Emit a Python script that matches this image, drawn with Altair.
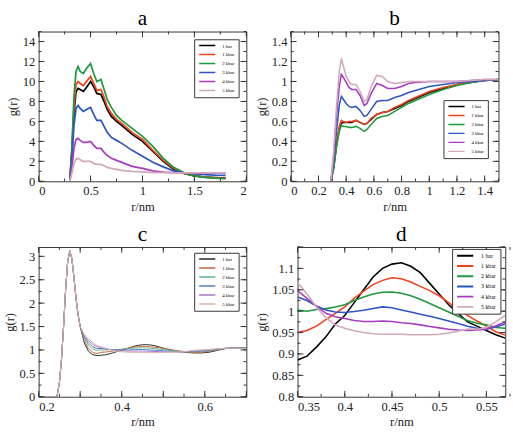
import altair as alt
import pandas as pd

SERIES = ["1 bar", "1 kbar", "2 kbar", "3 kbar", "4 kbar", "5 kbar"]
COLORS = ["#000000", "#f2401e", "#1f9a3c", "#2f55c0", "#a83cc0", "#d2a8bc"]
COLORS_C = ["#2a2a2a", "#c9663e", "#5db58c", "#4f7fc6", "#a878c6", "#d9b4a6"]
FONT = "Liberation Serif"

# ---- panel a ----
r_a = [0.3, 0.32, 0.34, 0.36, 0.38, 0.40, 0.43, 0.46, 0.50, 0.53, 0.56, 0.60, 0.63,
       0.66, 0.70, 0.75, 0.8, 0.9, 1.0, 1.1, 1.2, 1.3, 1.4, 1.5, 1.6, 1.7, 1.8]
a_1bar = [0, 2.8, 6.8, 9.0, 9.3, 9.2, 9.0, 9.4, 10.0, 9.5, 8.8, 8.7, 8.0, 7.2, 6.5,
          6.0, 5.6, 4.7, 4.0, 3.0, 2.0, 1.2, 0.8, 0.55, 0.42, 0.36, 0.32]
a_1kbar = [0, 3.0, 7.4, 9.7, 10.0, 9.8, 9.6, 10.0, 10.5, 9.8, 9.1, 9.2, 8.4, 7.5, 6.8,
           6.2, 5.8, 4.9, 4.2, 3.1, 2.1, 1.3, 0.8, 0.55, 0.42, 0.35, 0.3]
a_2kbar = [0, 3.4, 8.5, 11.0, 11.5, 11.0, 10.8, 11.3, 11.8, 10.8, 10.0, 10.2, 9.2, 8.2,
           7.4, 6.6, 6.1, 5.3, 4.5, 3.5, 2.3, 1.4, 0.85, 0.55, 0.4, 0.32, 0.28]
a_3kbar = [0, 2.3, 5.6, 7.3, 7.6, 7.3, 7.0, 7.2, 7.4, 6.7, 6.1, 6.1, 5.5, 4.9, 4.4,
           4.1, 3.8, 3.1, 2.5, 1.9, 1.45, 1.05, 0.85, 0.75, 0.68, 0.62, 0.6]
a_4kbar = [0, 1.4, 3.3, 4.2, 4.3, 4.1, 3.9, 3.9, 4.0, 3.6, 3.3, 3.3, 2.9, 2.6, 2.3,
           2.1, 1.9, 1.5, 1.3, 1.05, 0.92, 0.87, 0.85, 0.85, 0.85, 0.85, 0.85]
a_5kbar = [0, 0.8, 1.8, 2.2, 2.3, 2.15, 2.0, 2.0, 2.0, 1.8, 1.7, 1.7, 1.55, 1.4, 1.3,
           1.2, 1.1, 1.0, 0.95, 0.88, 0.86, 0.85, 0.85, 0.85, 0.85, 0.85, 0.85]

# ---- panel b ----
r_b = [0.29, 0.31, 0.33, 0.35, 0.365, 0.38, 0.40, 0.42, 0.44, 0.47, 0.50, 0.53, 0.55,
       0.58, 0.62, 0.66, 0.70, 0.75, 0.80, 0.85, 0.90, 1.0, 1.1, 1.2, 1.3, 1.4, 1.5]
b_1bar = [0, 0.14, 0.36, 0.53, 0.58, 0.59, 0.59, 0.59, 0.59, 0.61, 0.59, 0.57, 0.58,
          0.62, 0.67, 0.69, 0.70, 0.73, 0.76, 0.80, 0.83, 0.89, 0.93, 0.97, 0.99, 1.01, 1.02]
b_1kbar = [0, 0.15, 0.38, 0.55, 0.61, 0.60, 0.59, 0.60, 0.60, 0.61, 0.59, 0.57, 0.58,
           0.63, 0.67, 0.69, 0.70, 0.74, 0.77, 0.81, 0.84, 0.90, 0.94, 0.97, 1.0, 1.01, 1.02]
b_2kbar = [0, 0.13, 0.34, 0.50, 0.56, 0.55, 0.55, 0.54, 0.54, 0.55, 0.53, 0.50, 0.52,
           0.57, 0.63, 0.65, 0.66, 0.70, 0.74, 0.78, 0.81, 0.87, 0.92, 0.96, 0.99, 1.01, 1.02]
b_3kbar = [0, 0.20, 0.50, 0.76, 0.85, 0.82, 0.78, 0.75, 0.74, 0.75, 0.71, 0.65, 0.66,
           0.72, 0.80, 0.81, 0.81, 0.84, 0.86, 0.89, 0.91, 0.95, 0.97, 0.99, 1.0, 1.01, 1.02]
b_4kbar = [0, 0.26, 0.65, 0.95, 1.07, 1.04, 0.99, 0.94, 0.92, 0.92, 0.86, 0.76, 0.78,
           0.88, 0.98, 0.96, 0.93, 0.93, 0.95, 0.98, 0.99, 1.0, 1.0, 1.0, 1.01, 1.02, 1.02]
b_5kbar = [0, 0.30, 0.75, 1.10, 1.23, 1.15, 1.05, 1.0, 0.97, 0.97, 0.90, 0.80, 0.82,
           0.95, 1.06, 1.05, 1.0, 0.98, 0.99, 1.0, 1.0, 1.0, 1.0, 1.0, 1.01, 1.02, 1.02]

# ---- panel d (zoom of the second shell) ----
r_d = [0.35, 0.36, 0.37, 0.38, 0.39, 0.40, 0.41, 0.42, 0.43, 0.44, 0.45, 0.46, 0.47,
       0.48, 0.49, 0.50, 0.51, 0.52, 0.53, 0.54, 0.55, 0.56, 0.57]
d_1bar = [0.886, 0.895, 0.916, 0.94, 0.97, 0.99, 1.02, 1.05, 1.08, 1.10, 1.11, 1.113,
          1.105, 1.09, 1.065, 1.04, 1.015, 0.995, 0.975, 0.965, 0.955, 0.945, 0.937]
d_1kbar = [0.95, 0.955, 0.965, 0.98, 0.995, 1.01, 1.03, 1.047, 1.062, 1.072, 1.078, 1.076,
           1.068, 1.058, 1.048, 1.036, 1.02, 1.003, 0.99, 0.977, 0.965, 0.952, 0.944]
d_2kbar = [1.003, 1.0, 1.004, 1.006, 1.01, 1.015, 1.025, 1.033, 1.04, 1.044, 1.045, 1.042,
           1.036, 1.028, 1.018, 1.008, 0.998, 0.988, 0.978, 0.972, 0.968, 0.962, 0.96]
d_3kbar = [1.033, 1.025, 1.012, 1.003, 0.998, 0.997, 0.999, 1.002, 1.006, 1.01, 1.008, 1.003,
           0.998, 0.993, 0.988, 0.983, 0.977, 0.971, 0.965, 0.96, 0.958, 0.963, 0.97]
d_4kbar = [1.048, 1.03, 1.012, 0.995, 0.987, 0.983, 0.978, 0.976, 0.976, 0.977, 0.976, 0.973,
           0.971, 0.968, 0.964, 0.961, 0.958, 0.956, 0.955, 0.956, 0.958, 0.966, 0.975]
d_5kbar = [1.067, 1.04, 1.01, 0.985, 0.968, 0.96, 0.954, 0.95, 0.947, 0.946, 0.946, 0.946,
           0.945, 0.945, 0.945, 0.946, 0.949, 0.953, 0.958, 0.958, 0.962, 0.975, 0.99]

# ---- panel c: first peak, the d window, and the tail ----
r_c_head = [0.2, 0.244, 0.25, 0.255, 0.26, 0.265, 0.27, 0.275, 0.28, 0.285, 0.29, 0.295, 0.30]
c_head = [0, 0, 0.3, 0.8, 1.5, 2.3, 2.9, 3.12, 2.95, 2.55, 2.1, 1.75, 1.5]
r_c_mid = [0.31, 0.32, 0.33, 0.34]
c_mid_1bar = [1.15, 0.97, 0.90, 0.88]
c_mid_1kbar = [1.20, 1.03, 0.95, 0.92]
c_mid_2kbar = [1.25, 1.10, 1.02, 0.99]
c_mid_3kbar = [1.28, 1.15, 1.07, 1.03]
c_mid_4kbar = [1.30, 1.20, 1.12, 1.07]
c_mid_5kbar = [1.33, 1.23, 1.16, 1.10]
r_c_tail = [0.59, 0.61, 0.63, 0.65, 0.67, 0.70]
c_tail_1bar = [0.935, 0.95, 0.99, 1.03, 1.05, 1.04]
c_tail_1kbar = [0.95, 0.97, 1.0, 1.03, 1.045, 1.04]
c_tail_2kbar = [0.965, 0.98, 1.01, 1.035, 1.045, 1.04]
c_tail_3kbar = [0.975, 0.99, 1.015, 1.035, 1.04, 1.04]
c_tail_4kbar = [0.985, 1.0, 1.02, 1.035, 1.04, 1.035]
c_tail_5kbar = [1.0, 1.01, 1.025, 1.035, 1.04, 1.03]


def long_frame(r, columns):
    rows = []
    for name, values in zip(SERIES, columns):
        for i, (x, y) in enumerate(zip(r, values)):
            rows.append({"series": name, "r": x, "g": y, "i": i})
    return pd.DataFrame(rows)


df_a = long_frame(r_a, [a_1bar, a_1kbar, a_2kbar, a_3kbar, a_4kbar, a_5kbar])
df_b = long_frame(r_b, [b_1bar, b_1kbar, b_2kbar, b_3kbar, b_4kbar, b_5kbar])
df_d = long_frame(r_d, [d_1bar, d_1kbar, d_2kbar, d_3kbar, d_4kbar, d_5kbar])
r_c = r_c_head + r_c_mid + r_d + r_c_tail
df_c = long_frame(r_c, [
    c_head + m + d + t for m, d, t in [
        (c_mid_1bar, d_1bar, c_tail_1bar), (c_mid_1kbar, d_1kbar, c_tail_1kbar),
        (c_mid_2kbar, d_2kbar, c_tail_2kbar), (c_mid_3kbar, d_3kbar, c_tail_3kbar),
        (c_mid_4kbar, d_4kbar, c_tail_4kbar), (c_mid_5kbar, d_5kbar, c_tail_5kbar)]
])

W, H = 215, 155
FRAME = "#333333"
AXIS_STYLE = dict(labelFont=FONT, labelFontSize=13, labelColor="#222", titleFont=FONT,
                  titleFontSize=13, titleFontWeight="normal", titleColor="#222",
                  ticks=False, domain=False, grid=False, labelPadding=4, titlePadding=3,
                  format="~g")


def steps(lo, hi, step):
    n = int(round((hi - lo) / step))
    return [round(lo + k * step, 4) for k in range(n + 1)]


def inward_ticks(vals, length, xs, ys, xaxis, yaxis, axis):
    """Rules drawn just inside the frame, on both opposite sides."""
    d = pd.DataFrame({"v": vals})
    base = alt.Chart(d).mark_rule(color=FRAME, strokeWidth=1)
    if axis == "x":
        enc = dict(x=alt.X("v:Q", scale=xs, axis=xaxis))
        return [base.encode(y=alt.value(H), y2=alt.value(H - length), **enc),
                base.encode(y=alt.value(0), y2=alt.value(length), **enc)]
    enc = dict(y=alt.Y("v:Q", scale=ys, axis=yaxis))
    return [base.encode(x=alt.value(0), x2=alt.value(length), **enc),
            base.encode(x=alt.value(W), x2=alt.value(W - length), **enc)]


def panel(df, title, xdom, ydom, xlabels, ylabels, xminor, yminor, xmajor, ymajor,
          colors, lx, ly, sw, big_legend=False):
    xs = alt.Scale(domain=xdom, nice=False, zero=False)
    ys = alt.Scale(domain=ydom, nice=False, zero=False)
    xaxis = alt.Axis(values=xlabels, title="r/nm", **AXIS_STYLE)
    yaxis = alt.Axis(values=ylabels, title="g(r)", **AXIS_STYLE)
    legend = alt.Legend(orient="none", legendX=lx, legendY=ly, title=None,
                        symbolType="stroke", symbolSize=280,
                        symbolStrokeWidth=2 if big_legend else 1.5,
                        labelFontSize=6 if big_legend else 5,
                        labelFont=FONT, labelOffset=7 if big_legend else 6,
                        rowPadding=4.6 if big_legend else 3.3,
                        clipHeight=6 if big_legend else 5, padding=4,
                        strokeColor=FRAME, fillColor="white")
    lines = alt.Chart(df).mark_line(strokeWidth=sw, clip=True).encode(
        x=alt.X("r:Q", scale=xs, axis=xaxis),
        y=alt.Y("g:Q", scale=ys, axis=yaxis),
        color=alt.Color("series:N", sort=SERIES,
                        scale=alt.Scale(domain=SERIES, range=colors), legend=legend),
        detail="series:N",
        order=alt.Order("i:Q"),
    )
    layers = [lines]
    layers += inward_ticks(xminor, 3, xs, ys, xaxis, yaxis, "x")
    layers += inward_ticks(xmajor, 6, xs, ys, xaxis, yaxis, "x")
    layers += inward_ticks(yminor, 3, xs, ys, xaxis, yaxis, "y")
    layers += inward_ticks(ymajor, 6, xs, ys, xaxis, yaxis, "y")
    return alt.layer(*layers).properties(
        width=W, height=H,
        title=alt.TitleParams(title, fontSize=22, font=FONT, fontWeight="normal", offset=1),
    )


pa = panel(df_a, "a", [0, 2], [0, 15],
           [0, 0.5, 1, 1.5, 2], steps(0, 14, 2),
           steps(0, 2, 0.25), steps(0, 15, 1), steps(0, 2, 0.5), steps(0, 14, 2),
           COLORS, 161, 8, 1.8)
pb = panel(df_b, "b", [0, 1.5], [0, 1.5],
           steps(0, 1.4, 0.2), steps(0, 1.4, 0.2),
           steps(0, 1.5, 0.1), steps(0, 1.5, 0.1), steps(0, 1.4, 0.2), steps(0, 1.4, 0.2),
           COLORS, 158, 71, 1.6)
pc = panel(df_c, "c", [0.2, 0.7], [0, 3.2],
           [0.2, 0.4, 0.6], steps(0, 3, 0.5),
           steps(0.2, 0.7, 0.05), steps(0, 3.0, 0.25), steps(0.2, 0.7, 0.1), steps(0, 3, 0.5),
           COLORS_C, 161, 6, 1.0)
pd_ = panel(df_d, "d", [0.35, 0.57], [0.8, 1.15],
            steps(0.35, 0.55, 0.05), steps(0.8, 1.1, 0.05),
            steps(0.35, 0.57, 0.025), steps(0.8, 1.15, 0.025), steps(0.35, 0.55, 0.05),
            steps(0.8, 1.15, 0.05),
            COLORS, 160, 2, 1.6, big_legend=True)


def row(left, right):
    return alt.hconcat(left, right, spacing=8).resolve_scale(
        x="independent", y="independent", color="independent"
    ).resolve_legend(color="independent")


chart = alt.vconcat(row(pa, pb), row(pc, pd_), spacing=9).resolve_scale(
    x="independent", y="independent", color="independent"
).resolve_legend(color="independent").properties(
    padding={"left": 3, "top": 0, "right": 2, "bottom": 0}, background="white"
).configure_view(stroke=FRAME, strokeWidth=1)

chart.save("out.html", embed_options={"renderer": "svg", "actions": False})
